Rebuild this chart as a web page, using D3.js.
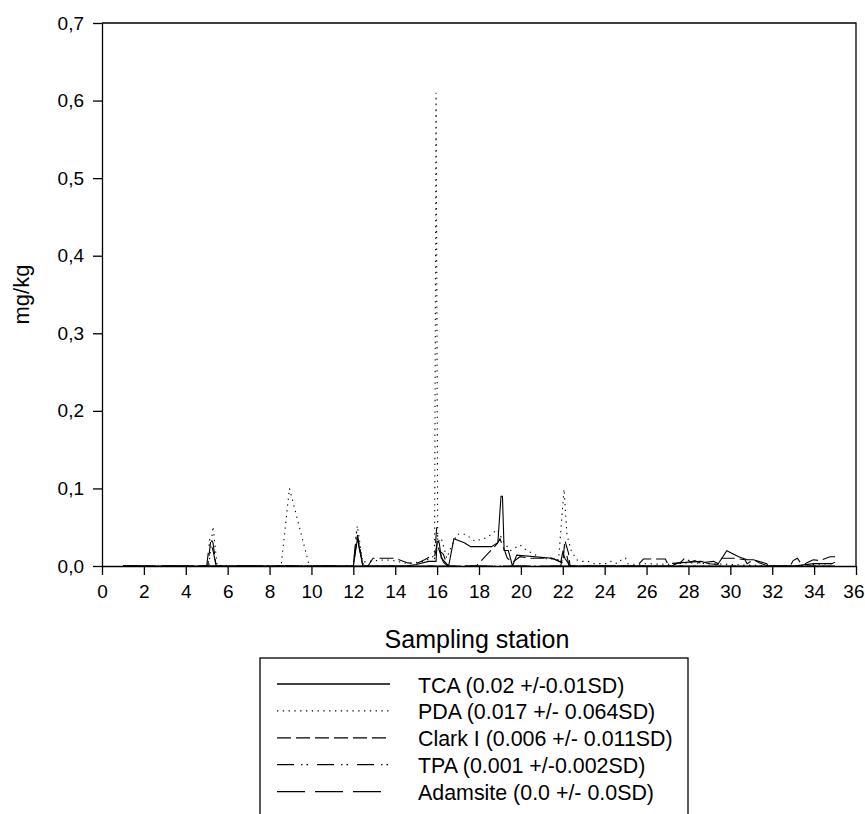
<!DOCTYPE html>
<html>
<head>
<meta charset="utf-8">
<script src="https://cdn.jsdelivr.net/npm/d3@7"></script>
<style>
  html, body { margin: 0; padding: 0; background: #fff; }
  svg { display: block; font-family: "Liberation Sans", Arial, sans-serif; }
</style>
</head>
<body>
<svg id="chart" width="865" height="814"></svg>
<script>
// ---------------- DATA ----------------
const xTicks = [0, 2, 4, 6, 8, 10, 12, 14, 16, 18, 20, 22, 24, 26, 28, 30, 32, 34, 36];
const yTicks = [0, 0.1, 0.2, 0.3, 0.4, 0.5, 0.6, 0.7];

const tcaStations = [1, 12.0, 12.2, 12.45, 14.5, 15.0, 15.6, 15.95, 16.0, 16.1, 16.2, 16.55, 16.8, 17.3, 17.6, 18.6, 18.9, 19.05, 19.12, 19.2, 19.4, 19.6, 19.8, 21.5, 21.9, 22.0, 22.1, 22.35, 23, 27.2, 27.5, 28.6, 29.0, 29.4, 29.83, 30.4, 30.8, 31.1, 31.74, 31.8, 33, 34.0, 34.85, 35];
const tcaValues   = [0, 0, 0.036, 0, 0, 0.002, 0.006, 0.006, 0.032, 0.03, 0.01, 0, 0.035, 0.03, 0.025, 0.025, 0.03, 0.09, 0.09, 0.02, 0.02, 0, 0.014, 0.01, 0.005, 0.018, 0.01, 0, 0, 0, 0.004, 0.006, 0.003, 0.002, 0.0197, 0.012, 0.008, 0.008, 0.003, 0, 0, 0.003, 0.003, 0.005];

const pdaStations = [1, 5.1, 5.3, 5.5, 8.55, 8.95, 9.9, 12.0, 12.19, 12.45, 12.7, 13.5, 13.9, 14.6, 15.4, 15.8, 15.88, 15.95, 16.03, 16.2, 16.46, 16.6, 16.95, 17.35, 17.8, 18.3, 18.6, 18.87, 19.2, 19.5, 19.96, 20.28, 20.5, 21.0, 21.8, 22.06, 22.2, 22.4, 22.66, 22.9, 23.2, 23.5, 24.1, 24.3, 24.6, 24.8, 25.0, 25.1, 25.5, 26, 27, 28, 29, 30, 31, 32, 33, 34, 35];
const pdaValues   = [0, 0, 0.051, 0, 0, 0.1, 0, 0, 0.052, 0.005, 0.006, 0.008, 0.007, 0.003, 0.006, 0.012, 0.02, 0.61, 0.03, 0.036, 0.01, 0.02, 0.041, 0.041, 0.032, 0.036, 0.041, 0.047, 0.03, 0.02, 0.027, 0.02, 0.017, 0.01, 0.008, 0.099, 0.04, 0.02, 0.008, 0.006, 0.006, 0.003, 0.003, 0.006, 0.003, 0.008, 0.01, 0.003, 0.002, 0.003, 0.002, 0.004, 0.003, 0.002, 0.001, 0, 0, 0.002, 0.003];

const clarkStations = [1, 5.05, 5.2, 5.3, 5.45, 12.0, 12.1, 12.2, 12.3, 12.45, 12.7, 12.94, 13.66, 14.0, 14.6, 15.0, 15.4, 15.66, 15.9, 16.0, 16.1, 16.3, 16.5, 17.87, 18.85, 19.0, 19.25, 19.35, 19.6, 19.96, 20.5, 21.5, 22.0, 22.1, 22.27, 22.35, 25.53, 25.85, 26.2, 26.9, 27.0, 27.6, 27.85, 28.1, 28.3, 28.56, 29.2, 29.43, 29.6, 29.83, 30.2, 30.7, 30.8, 31.1, 31.4, 31.8, 32.86, 33.0, 33.2, 33.33, 33.57, 33.73, 33.96, 34.28, 34.76, 35];
const clarkValues   = [0, 0, 0.035, 0.03, 0, 0, 0.02, 0.04, 0.025, 0, 0, 0.01, 0.01, 0.01, 0.004, 0.003, 0.008, 0.012, 0.014, 0.03, 0.02, 0.015, 0, 0, 0.028, 0.035, 0.018, 0.01, 0.005, 0.012, 0.01, 0.01, 0.004, 0.033, 0.017, 0, 0, 0.009, 0.009, 0.009, 0.003, 0.004, 0.011, 0.005, 0.007, 0.004, 0.006, 0.003, 0.01, 0.01, 0.01, 0.008, 0.003, 0.008, 0.004, 0, 0, 0.007, 0.01, 0.005, 0.003, 0.005, 0.008, 0.007, 0.012, 0.012];

const tpaStations = [1, 5.0, 5.15, 5.3, 5.45, 12.0, 12.15, 12.3, 12.5, 15.85, 15.98, 16.1, 16.3, 16.5, 21.9, 22.1, 22.3, 35];
const tpaValues   = [0, 0, 0.035, 0.02, 0, 0, 0.045, 0.02, 0, 0, 0.05, 0.02, 0.005, 0, 0, 0.025, 0, 0];

const adamStations = [1, 35];
const adamValues   = [0, 0];

const seriesNames = ["TCA (0.02 +/-0.01SD)", "PDA (0.017 +/- 0.064SD)", "Clark I (0.006 +/- 0.011SD)", "TPA (0.001 +/-0.002SD)", "Adamsite (0.0 +/- 0.0SD)"];

// ---------------- DRAW ----------------
(function () {
  const series = [
    { name: seriesNames[0], xs: tcaStations, ys: tcaValues, dash: null },
    { name: seriesNames[1], xs: pdaStations, ys: pdaValues, dash: "1.3,4.5" },
    { name: seriesNames[2], xs: clarkStations, ys: clarkValues, dash: "14,5" },
    { name: seriesNames[3], xs: tpaStations, ys: tpaValues, dash: "17,7,1.5,4,1.5,9" },
    { name: seriesNames[4], xs: adamStations, ys: adamValues, dash: "28,10" }
  ];

  const svg = d3.select("#chart");
  const pL = 102, pR = 856, pT = 23, pB = 566;
  const x = d3.scaleLinear().domain([0, 36]).range([pL, pR]);
  const y = d3.scaleLinear().domain([0, 0.7]).range([pB, pT]);

  svg.append("defs").append("clipPath").attr("id", "clip")
    .append("rect").attr("x", pL).attr("y", pT - 2).attr("width", pR - pL).attr("height", pB - pT + 2);

  const line = d3.line().x(d => x(d[0])).y(d => y(d[1]));

  const plot = svg.append("g").attr("clip-path", "url(#clip)");
  series.forEach(s => {
    const n = Math.min(s.xs.length, s.ys.length);
    const pts = d3.range(n).map(i => [s.xs[i], s.ys[i]]);
    plot.append("path")
      .attr("d", line(pts))
      .attr("fill", "none")
      .attr("stroke", "#000")
      .attr("stroke-width", 1.1)
      .attr("stroke-dasharray", s.dash);
  });

  // frame (top and right)
  svg.append("path")
    .attr("d", `M${pL},${pT}H${pR}V${pB}`)
    .attr("fill", "none").attr("stroke", "#000").attr("stroke-width", 1.3);

  const fmt = v => d3.format(".1f")(v).replace(".", ",");

  const yAxis = svg.append("g").attr("transform", `translate(${pL},0)`)
    .call(d3.axisLeft(y).tickValues(yTicks).tickFormat(fmt).tickSize(9).tickPadding(9).tickSizeOuter(0));
  const xAxis = svg.append("g").attr("transform", `translate(0,${pB})`)
    .call(d3.axisBottom(x).tickValues(xTicks).tickFormat(d3.format("d")).tickSize(9).tickPadding(10).tickSizeOuter(0));

  [yAxis, xAxis].forEach(g => {
    g.selectAll("path.domain").attr("stroke", "#000").attr("stroke-width", 1.3);
    g.selectAll(".tick line").attr("stroke", "#000").attr("stroke-width", 1.3);
    g.selectAll(".tick text").attr("fill", "#000").style("font-size", "19px")
      .style("font-family", '"Liberation Sans", Arial, sans-serif');
  });
  // keep the last x label inside the page
  xAxis.selectAll(".tick text").filter(d => d === 36)
    .attr("text-anchor", "end").attr("x", 8);

  // axis titles
  svg.append("text")
    .attr("transform", `translate(29,${(pT + pB) / 2}) rotate(-90)`)
    .attr("text-anchor", "middle")
    .style("font-size", "22px").attr("fill", "#000")
    .text("mg/kg");

  svg.append("text")
    .attr("x", 477).attr("y", 648)
    .attr("text-anchor", "middle")
    .style("font-size", "25px").attr("fill", "#000")
    .text("Sampling station");

  // legend
  const lg = svg.append("g");
  lg.append("rect").attr("x", 260).attr("y", 658).attr("width", 428).attr("height", 200)
    .attr("fill", "none").attr("stroke", "#000").attr("stroke-width", 1.3);
  series.forEach((s, i) => {
    const ly = 684 + i * 26.9;
    lg.append("line").attr("x1", 277).attr("x2", i === 4 ? 383 : 390).attr("y1", ly).attr("y2", ly)
      .attr("stroke", "#000").attr("stroke-width", 1.3).attr("stroke-dasharray", s.dash);
    lg.append("text").attr("x", 418).attr("y", ly + 8.5)
      .style("font-size", "21.4px").attr("fill", "#000").text(s.name);
  });
})();
</script>
</body>
</html>
